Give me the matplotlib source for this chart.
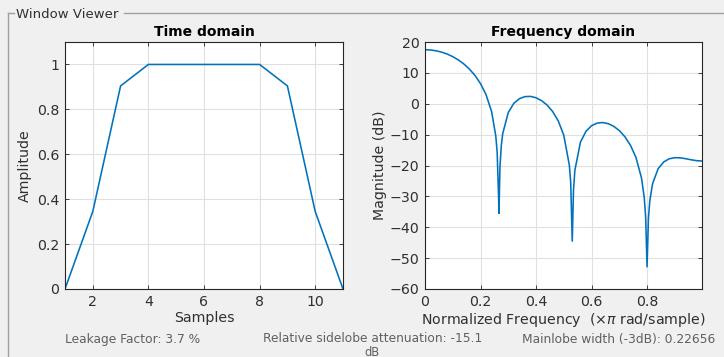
import matplotlib
matplotlib.use("Agg")
import matplotlib.pyplot as plt
from matplotlib.lines import Line2D

# ---- data ----
samples = [1, 2, 3, 4, 5, 6, 7, 8, 9, 10, 11]
amplitude = [0, 0.3455, 0.9045, 1, 1, 1, 1, 1, 0.9045, 0.3455, 0]

norm_freq = [0, 0.02, 0.04, 0.06, 0.08, 0.10, 0.12, 0.14, 0.16, 0.18, 0.20, 0.22,
             0.24, 0.255, 0.26, 0.265, 0.2665, 0.27, 0.275, 0.28, 0.30, 0.32, 0.34,
             0.36, 0.38, 0.40, 0.42, 0.44, 0.46, 0.48, 0.50, 0.52, 0.525, 0.5305,
             0.535, 0.54, 0.56, 0.58, 0.60, 0.62, 0.64, 0.66, 0.68, 0.70, 0.72, 0.74,
             0.76, 0.78, 0.79, 0.795, 0.80, 0.805, 0.81, 0.82, 0.84, 0.86, 0.88, 0.90,
             0.92, 0.94, 0.96, 0.98, 0.998]
magnitude_db = [17.50, 17.42, 17.16, 16.72, 16.09, 15.26, 14.20, 12.88, 11.23, 9.17,
                6.52, 2.93, -2.56, -10.42, -15.70, -29.78, -35.5, -20.58, -13.41, -9.69,
                -2.83, 0.13, 1.64, 2.31, 2.38, 1.94, 1.01, -0.44, -2.53, -5.54, -10.20,
                -19.87, -25.55, -44.5, -27.98, -21.55, -12.44, -8.91, -7.11, -6.27,
                -6.09, -6.45, -7.31, -8.69, -10.66, -13.41, -17.38, -24.05, -30.46,
                -36.70, -52.8, -37.14, -31.37, -25.88, -21.04, -18.85, -17.82, -17.47,
                -17.52, -17.81, -18.17, -18.45, -18.55]

time_xticks = [2, 4, 6, 8, 10]
time_yticks = [0, 0.2, 0.4, 0.6, 0.8, 1]
time_yticklabels = ["0", "0.2", "0.4", "0.6", "0.8", "1"]
freq_xticks = [0, 0.2, 0.4, 0.6, 0.8]
freq_xticklabels = ["0", "0.2", "0.4", "0.6", "0.8"]
freq_yticks = [-60, -50, -40, -30, -20, -10, 0, 10, 20]

info_texts = ["Leakage Factor: 3.7 %",
              "Relative sidelobe attenuation: -15.1",
              "dB",
              "Mainlobe width (-3dB): 0.22656"]

# ---- style ----
plt.rcParams['font.family'] = ['DejaVu Sans']
BG = "#f0f0f0"
LINE = "#0072bd"
TXT = "#303030"

fig = plt.figure(figsize=(7.24, 3.57), dpi=100, facecolor=BG)

W, H = 724.0, 357.0


def fx(px):
    return px / W


def fy(py):
    return 1 - py / H


def style_axes(ax):
    ax.set_facecolor("white")
    for s in ax.spines.values():
        s.set_color("#262626")
        s.set_linewidth(0.8)
    ax.tick_params(direction="in", length=3, width=0.6, colors="#262626",
                   labelsize=10.2, top=True, right=True, pad=4)
    ax.tick_params(labelcolor=TXT)
    ax.grid(True, color="#e0e0e0", linewidth=0.8)
    ax.set_axisbelow(True)


# Time domain axes
ax1 = fig.add_axes([fx(65), fy(289), fx(343) - fx(65), fy(42) - fy(289)])
style_axes(ax1)
ax1.plot(samples, amplitude, color=LINE, linewidth=1.15)
ax1.set_xlim(1, 11)
ax1.set_ylim(0, 1.1)
ax1.set_xticks(time_xticks)
ax1.set_yticks(time_yticks)
ax1.set_yticklabels(time_yticklabels)
ax1.set_title("Time domain", fontsize=10, fontweight="bold", color="black", pad=4)
ax1.set_xlabel("Samples", fontsize=10.2, color=TXT, labelpad=2)
ax1.set_ylabel("Amplitude", fontsize=10.2, color=TXT, labelpad=4)

# Frequency domain axes
ax2 = fig.add_axes([fx(425), fy(289), fx(702) - fx(425), fy(42) - fy(289)])
style_axes(ax2)
ax2.plot(norm_freq, magnitude_db, color=LINE, linewidth=1.15)
ax2.set_xlim(0, 0.998)
ax2.set_ylim(-60, 20)
ax2.set_xticks(freq_xticks)
ax2.set_xticklabels(freq_xticklabels)
ax2.set_yticks(freq_yticks)
ax2.set_title("Frequency domain", fontsize=10, fontweight="bold", color="black", pad=4)
ax2.set_xlabel("Normalized Frequency  ($\\times\\pi$ rad/sample)", fontsize=10.2,
               color=TXT, labelpad=2)
ax2.set_ylabel("Magnitude (dB)", fontsize=10.2, color=TXT, labelpad=2)

# Panel frame
frame_col = "#a0a0a0"
fig.add_artist(Line2D([fx(8), fx(8)], [fy(13), 0], color=frame_col, lw=1.0,
                      transform=fig.transFigure))
fig.add_artist(Line2D([fx(8), fx(14)], [fy(13), fy(13)], color=frame_col, lw=1.0,
                      transform=fig.transFigure))
fig.add_artist(Line2D([fx(124), 1.0], [fy(13), fy(13)], color=frame_col, lw=1.0,
                      transform=fig.transFigure))
fig.text(fx(16), fy(14), "Window Viewer", fontsize=9.5, color="#303030",
         ha="left", va="center")

# Info texts
info_col = "#606060"
fig.text(fx(65), fy(339), info_texts[0], fontsize=8.8, color=info_col, ha="left", va="center")
fig.text(fx(263), fy(339), info_texts[1], fontsize=8.8, color=info_col, ha="left", va="center")
fig.text(fx(372), fy(345.5), info_texts[2], fontsize=8.3, color=info_col, ha="center", va="top")
fig.text(fx(522), fy(339), info_texts[3], fontsize=8.8, color=info_col, ha="left", va="center")

fig.savefig("out.png", dpi=100, facecolor=BG)
